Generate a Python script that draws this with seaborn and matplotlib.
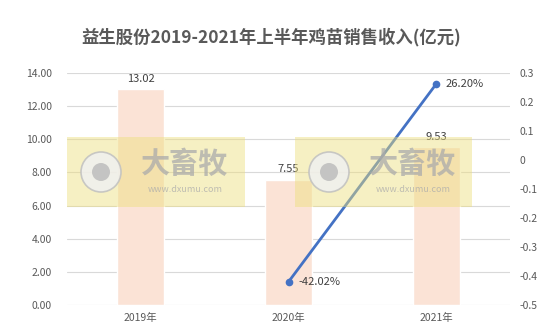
import matplotlib
matplotlib.use("Agg")
import matplotlib.pyplot as plt
import seaborn as sns
import pandas as pd
import numpy as np
from matplotlib.patches import Rectangle, Ellipse

sns.set_theme(style="white")
plt.rcParams['font.family'] = ['Noto Sans CJK SC', 'DejaVu Sans']

years = ["2019年", "2020年", "2021年"]
revenue = [13.02, 7.55, 9.53]
growth_years = ["2020年", "2021年"]
growth = [-0.4202, 0.2620]
left_ticks = [0, 2, 4, 6, 8, 10, 12, 14]
right_ticks = [-0.5, -0.4, -0.3, -0.2, -0.1, 0, 0.1, 0.2, 0.3]
title = "益生股份2019-2021年上半年鸡苗销售收入(亿元)"

TXT = "#595959"
BAR = "#FBE3D6"
LINE = "#4472C4"

fig = plt.figure(figsize=(5.43, 3.36), dpi=100)
ax = fig.add_axes([67/543, 1-305/336, (510-67)/543, (305-73)/336])

df = pd.DataFrame({"year": years, "rev": revenue})
sns.barplot(data=df, x="year", y="rev", order=years, color=BAR, width=0.32,
            saturation=1, ax=ax, zorder=2)
ax.set_ylim(0, 14)
ax.set_yticks(left_ticks)
ax.set_yticklabels([f"{t:.2f}" for t in left_ticks])
ax.grid(axis="y", color="#D9D9D9", linewidth=0.8, zorder=0)
ax.set_axisbelow(True)
ax.set_xlabel("")
ax.set_ylabel("")
for s in ax.spines.values():
    s.set_visible(False)
ax.tick_params(axis="both", length=0, labelsize=7.5, colors=TXT, pad=6)
ax.tick_params(axis="y", pad=11)
for i, v in enumerate(revenue):
    ax.annotate(f"{v:.2f}", (i, v), xytext=(0, 4), textcoords="offset points",
                ha="center", va="bottom", fontsize=8, color="#404040")

ax2 = ax.twinx()
dfg = pd.DataFrame({"year": growth_years, "g": growth})
sns.pointplot(data=dfg, x="year", y="g", order=years, color=LINE, ax=ax2,
              markers="o", markersize=4, linewidth=2)
ax2.set_ylim(-0.5, 0.3)
ax2.set_yticks(right_ticks)
ax2.set_yticklabels([("0" if abs(t) < 1e-9 else f"{t:.1f}") for t in right_ticks])
ax2.set_xlabel("")
ax2.set_ylabel("")
for s in ax2.spines.values():
    s.set_visible(False)
ax2.tick_params(axis="y", length=0, labelsize=7.5, colors=TXT, pad=7)
for yr, g in zip(growth_years, growth):
    ax2.annotate(f"{g*100:.2f}%", (years.index(yr), g), xytext=(7, 0),
                 textcoords="offset points", ha="left", va="center",
                 fontsize=8, color="#404040")
ax.set_xlim(-0.5, 2.5)
ax2.set_xlim(-0.5, 2.5)

fig.text(0.5, 1-37/336, title, ha="center", va="center", fontsize=12.5,
         fontweight="bold", color=TXT)

# watermarks
W, H = 543, 336
for x0, x1 in [(67, 245), (295, 472)]:
    fig.patches.append(Rectangle((x0/W, 1-207/H), (x1-x0)/W, 70/H,
                                 transform=fig.transFigure, facecolor="#EDDF7A",
                                 alpha=0.45, edgecolor="none", zorder=5))
    cx, cy = (x0+34)/W, 1-172/H
    fig.patches.append(Ellipse((cx, cy), 40/W, 40/H, transform=fig.transFigure,
                               facecolor="#F0F0F0", edgecolor="#C0C0C0", lw=1.2,
                               alpha=0.85, zorder=6))
    fig.patches.append(Ellipse((cx, cy), 18/W, 18/H, transform=fig.transFigure,
                               facecolor="#BDBDBD", edgecolor="none", alpha=0.85, zorder=6))
    fig.text((x0+118)/W, 1-164/H, "大畜牧", ha="center", va="center", fontsize=21,
             fontweight="bold", color="#ABABAB", alpha=0.75, zorder=7)
    fig.text((x0+118)/W, 1-189/H, "www.dxumu.com", ha="center", va="center",
             fontsize=6.5, color="#ABABAB", alpha=0.75, zorder=7)

fig.savefig("out.png", dpi=100)
